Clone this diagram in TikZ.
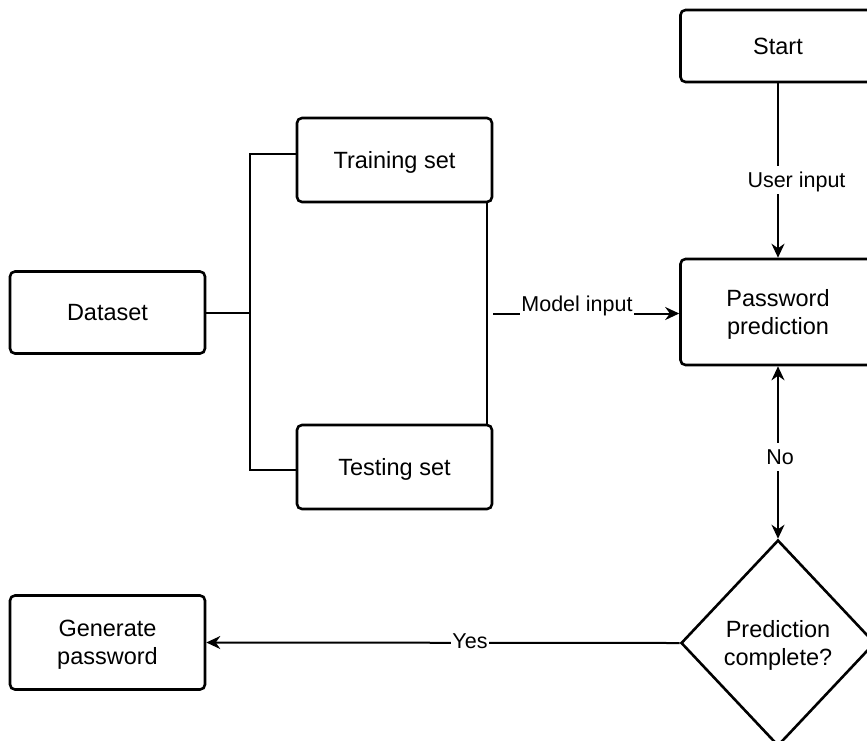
\documentclass[tikz,border=0pt]{standalone}
\usepackage{fontspec}
\setmainfont{Liberation Sans}
\usetikzlibrary{shapes.geometric,arrows.meta}
\begin{document}
\begin{tikzpicture}[x=1pt,y=-1pt,
  nfont/.style={font=\fontsize{23.5}{28}\selectfont},
  oneline/.style={text height=22.3pt,text depth=5.5pt},
  twoline/.style={text height=50.3pt,text depth=5.5pt},
  box/.style={draw,line width=2.6pt,rounded corners=5pt,minimum width=195pt,
    minimum height=#1,inner sep=0pt,align=center,nfont},
  decision/.style={draw,diamond,line width=2.6pt,minimum width=194pt,minimum height=206pt,
    inner sep=0pt,align=center,nfont,twoline},
  conn/.style={line width=2pt},
  arr/.style={conn,-{Stealth[length=14pt,width=13pt]}},
  darr/.style={conn,{Stealth[length=14pt,width=13pt]}-{Stealth[length=14pt,width=13pt]}},
  lbl/.style={fill=white,inner sep=1pt,font=\fontsize{21.5}{25}\selectfont,
    text height=20.4pt,text depth=5pt}]
\useasboundingbox (0,0) rectangle (867,740);
\clip (0,0) rectangle (867,740);
\node[box=82pt,oneline] (data) at (107.5,312.5) {Dataset};
\node[box=84pt,oneline] (train) at (394.5,160) {Training set};
\node[box=84pt,oneline] (test) at (394.5,467) {Testing set};
\node[box=94pt,twoline] (gen) at (107.5,642.5) {Generate\\password};
\node[box=72pt,oneline] (start) at (778,46) {Start};
\node[box=106pt,twoline] (pred) at (778,312) {Password\\prediction};
\node[decision] (dec) at (778,643) {Prediction\\complete?};
\coordinate (j) at (250,312.5);
\draw[conn] (data.east) -- (j);
\draw[conn] ([yshift=6pt]train.west) -| (j) |- ([yshift=-3pt]test.west);
\draw[conn] ([xshift=-6pt]train.south east) -- ([xshift=-6pt]test.north east);
\coordinate (mi) at (493,313.5);
\draw[arr] (mi) -- (pred.west |- mi);
\node[lbl] (milbl) at (577,304) {Model input};
\draw[arr] (start) -- (pred);
\node[lbl] (uilbl) at (796.5,180) {User input};
\draw[darr] (pred) -- (dec);
\node[lbl] (nolbl) at (780,457) {No};
\draw[arr] (dec.west) -- (gen.east);
\node[lbl] (yeslbl) at (470,641) {Yes};
\end{tikzpicture}
\end{document}
